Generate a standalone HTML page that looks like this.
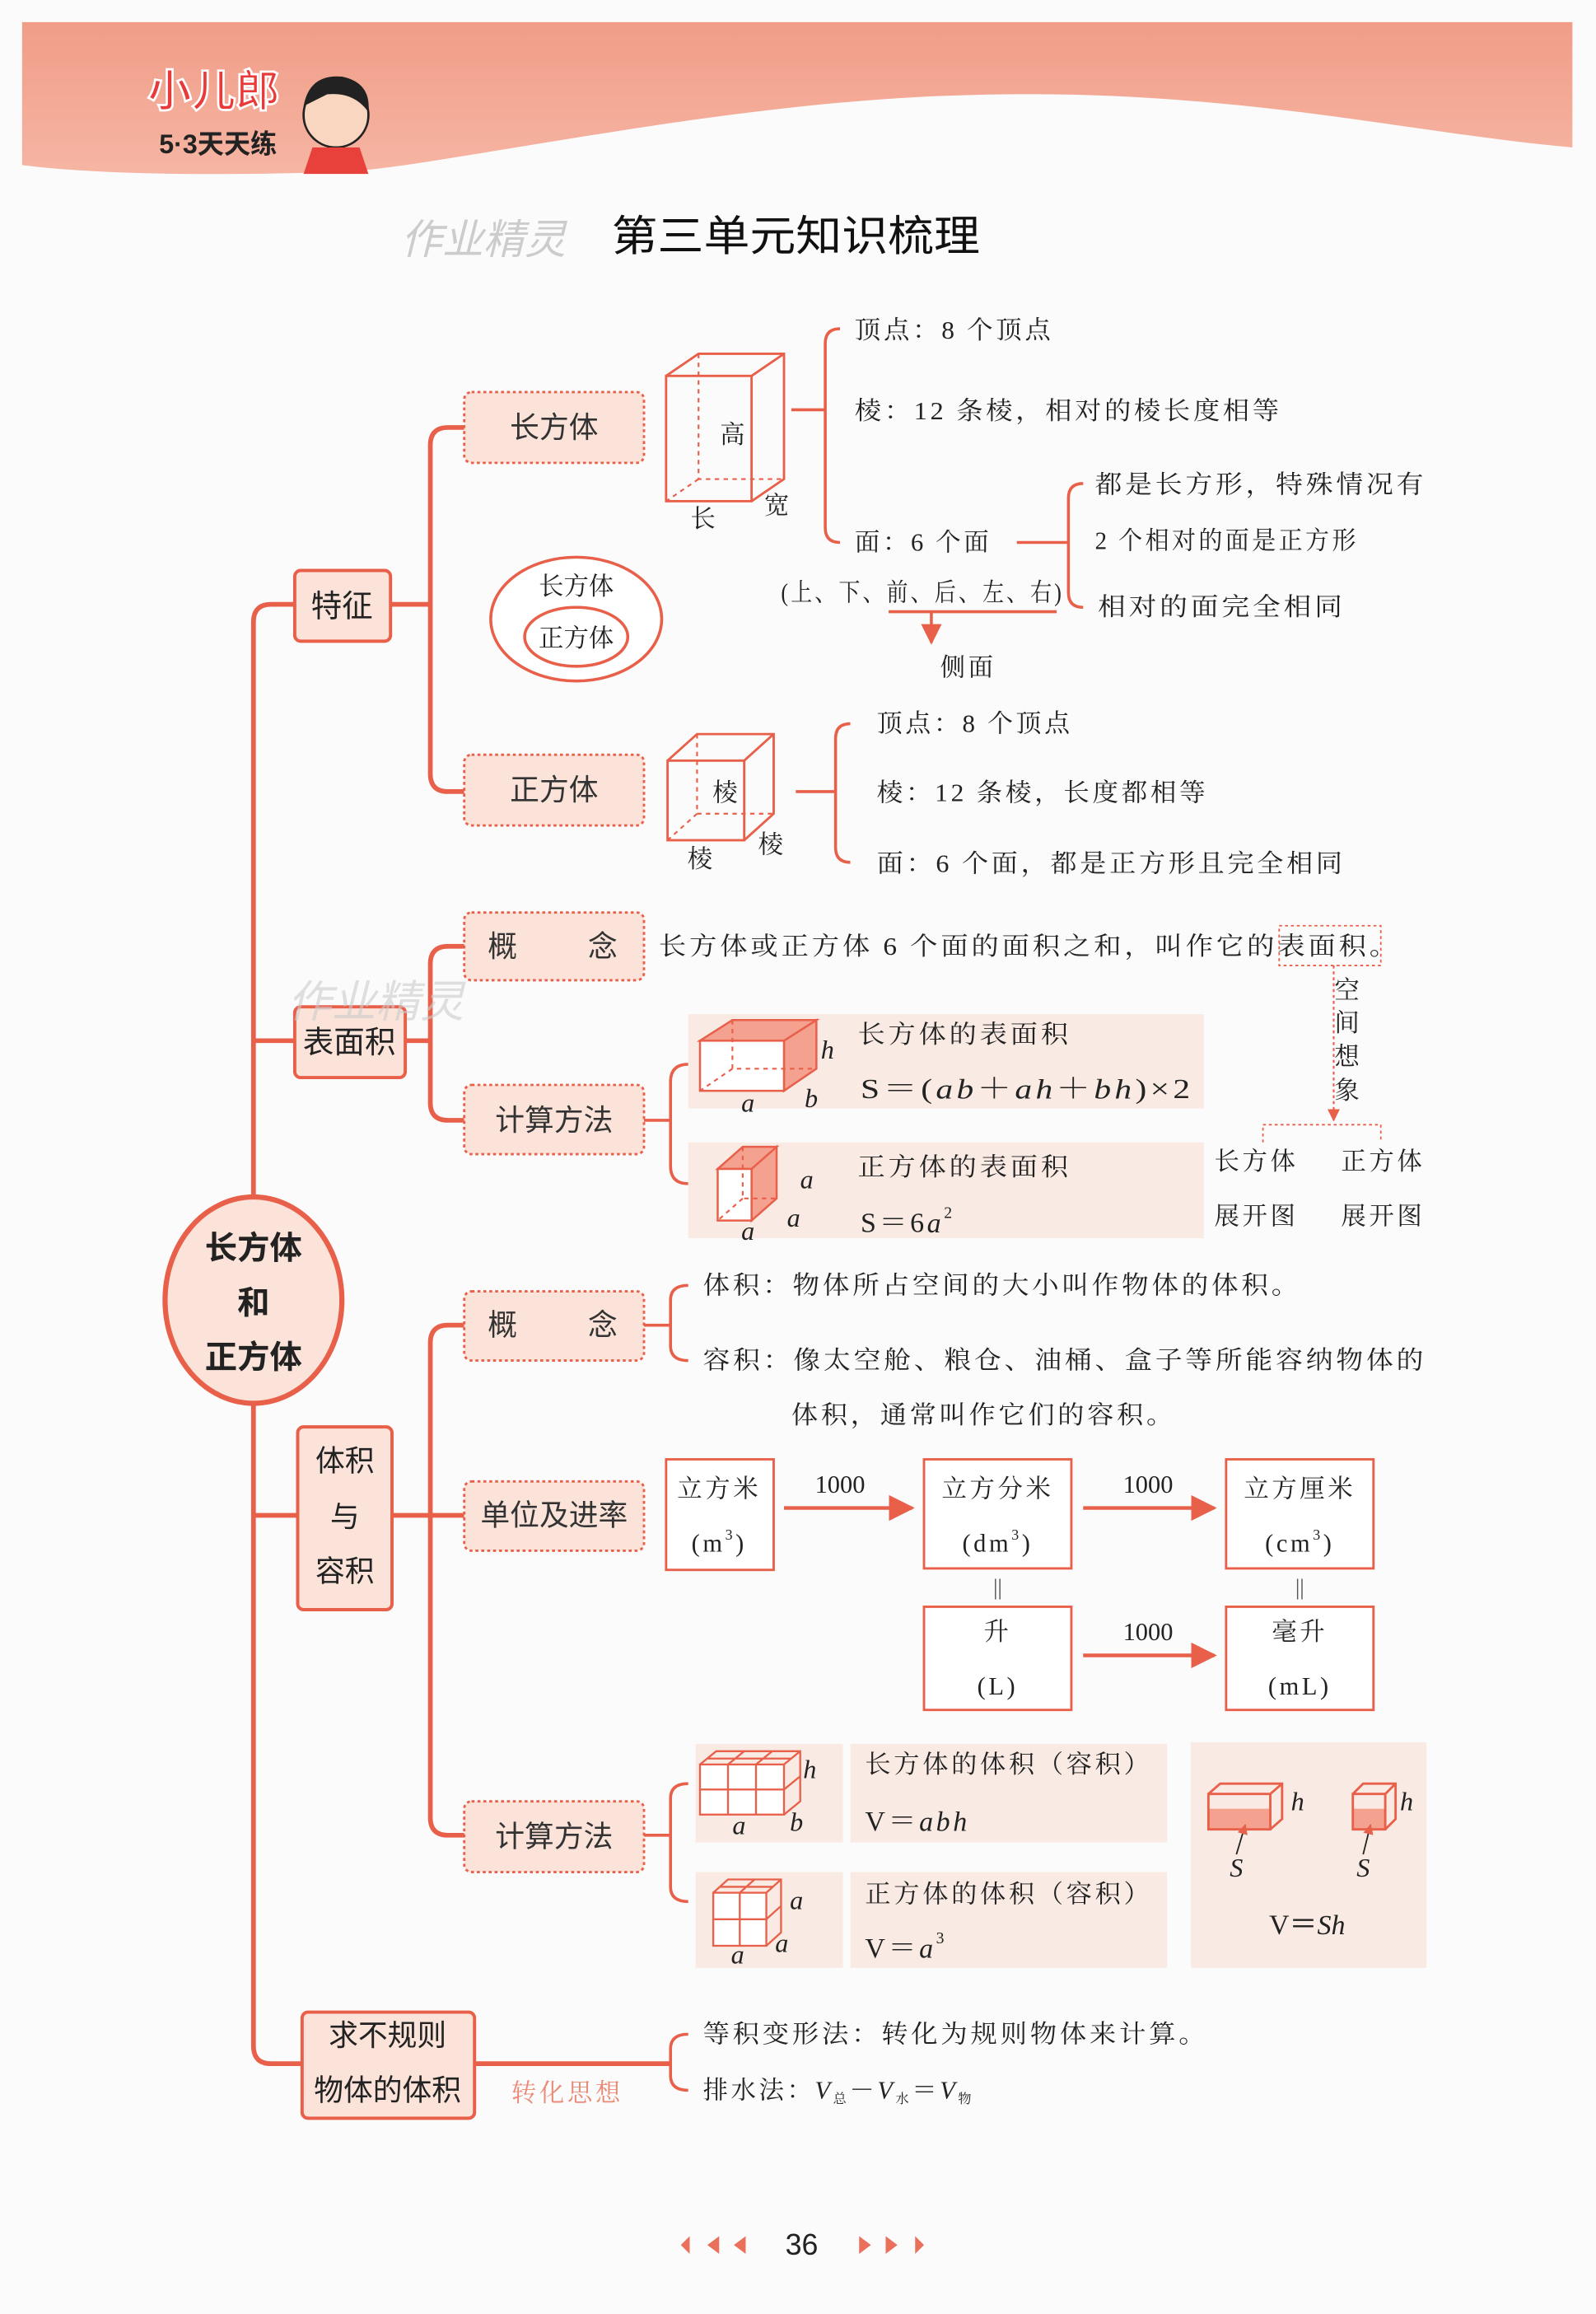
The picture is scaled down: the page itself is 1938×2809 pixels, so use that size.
<!DOCTYPE html>
<html><head><meta charset="utf-8"><style>
html,body{margin:0;padding:0;background:#fcfbfb;}
svg{display:block;}
.t{font-family:"Liberation Serif","Noto Serif CJK SC",serif;font-size:17px;fill:#222;letter-spacing:2px;dominant-baseline:central;}
.b{font-family:"Liberation Sans","Noto Sans CJK SC",sans-serif;font-size:20px;fill:#333;dominant-baseline:central;text-anchor:middle;}
.bb{font-family:"Liberation Sans","Noto Sans CJK SC",sans-serif;font-size:21px;font-weight:bold;fill:#222;dominant-baseline:central;text-anchor:middle;}
.i{font-family:"Liberation Serif",serif;font-style:italic;font-size:18px;fill:#222;dominant-baseline:central;}
.ln{stroke:#e8604a;stroke-width:3.2;fill:none;}
.br{stroke:#e8604a;stroke-width:2;fill:none;}
.bx{fill:#fbe3d9;stroke:#e8604a;stroke-width:1.6;stroke-dasharray:2 2;}
.sb{fill:#fbe3d9;stroke:#e8604a;stroke-width:2.2;}
.ub{fill:#fff;stroke:#e8604a;stroke-width:1.6;}
.pn{fill:#f9ebe4;}
.cb{fill:none;stroke:#e8604a;stroke-width:1.6;}
.cd{fill:none;stroke:#e8604a;stroke-width:1.2;stroke-dasharray:3 3;}
</style></head><body>
<svg width="1938" height="2809" viewBox="0 0 1083 1569.8" preserveAspectRatio="none" xmlns="http://www.w3.org/2000/svg">
<defs>
<linearGradient id="hg" x1="0" y1="0" x2="0" y2="1"><stop offset="0" stop-color="#f09d88"/><stop offset="1" stop-color="#f6b5a3"/></linearGradient>
<marker id="ar" viewBox="0 0 10 10" refX="9" refY="5" markerWidth="7" markerHeight="7" orient="auto"><path d="M0,0 L10,5 L0,10 z" fill="#e8604a"/></marker>
</defs>
<rect x="0" y="0" width="1083" height="1570" fill="#fcfbfb"/>
<!-- header -->
<path d="M15,15 H1067 V100 C950,90 820,55 620,66 C470,74 300,112 240,116 C150,120 60,118 15,112 Z" fill="url(#hg)"/>
<text x="145" y="72" text-anchor="middle" font-family="Liberation Sans,Noto Sans CJK SC,sans-serif" font-size="30" font-weight="bold" fill="#e83a3a" stroke="#fff" stroke-width="1.5">小儿郎</text>
<text x="148" y="104" text-anchor="middle" font-family="Liberation Sans,Noto Sans CJK SC,sans-serif" font-size="18" font-weight="bold" fill="#222">5·3天天练</text>
<circle cx="228" cy="78" r="22" fill="#f8d6bf" stroke="#222" stroke-width="1.5"/>
<path d="M206,72 Q210,50 232,52 Q252,56 250,76 Q240,62 222,64 Z" fill="#222"/>
<path d="M212,100 L244,100 L250,118 L206,118 Z" fill="#e8403a"/>
<text x="328" y="172" text-anchor="middle" font-family="Liberation Sans,Noto Sans CJK SC,sans-serif" font-size="28" fill="#ccc" font-style="italic">作业精灵</text>
<text x="415" y="160" textLength="250" lengthAdjust="spacingAndGlyphs" dominant-baseline="central" font-family="Liberation Sans,Noto Sans CJK SC,sans-serif" font-size="29" fill="#111">第三单元知识梳理</text>

<!-- trunk -->
<path class="ln" d="M200,410 H184 Q172,410 172,422 V1388 Q172,1400 184,1400 H206"/>
<path class="ln" d="M172,706 H200 M172,1028 H202"/>
<!-- 特征 group -->
<path class="ln" d="M265,410 H292 M315,290 H304 Q292,290 292,302 V525 Q292,537 304,537 H315"/>
<rect class="sb" x="200" y="387" width="65" height="48" rx="4"/><text class="bb" x="232" y="411" style="font-weight:normal">特征</text>
<rect class="bx" x="315" y="266" width="122" height="48" rx="5"/><text class="b" x="376" y="290">长方体</text>
<rect class="bx" x="315" y="512" width="122" height="48" rx="5"/><text class="b" x="376" y="536">正方体</text>
<!-- venn -->
<ellipse cx="391" cy="420" rx="58" ry="42" fill="#fff" stroke="#e8604a" stroke-width="2"/>
<ellipse cx="391" cy="432" rx="35" ry="20" fill="#fff" stroke="#e8604a" stroke-width="2"/>
<text class="t" x="391" y="398" text-anchor="middle" style="letter-spacing:0">长方体</text>
<text class="t" x="391" y="433" text-anchor="middle" style="letter-spacing:0">正方体</text>
<!-- cuboid -->
<rect class="cb" x="452" y="255" width="58" height="85"/>
<path class="cb" d="M452,255 L474,240 H532 V325 L510,340 M510,255 L532,240"/>
<path class="cd" d="M474,240 V325 H532 M474,325 L452,340"/>
<text class="t" x="497" y="295" text-anchor="middle" style="letter-spacing:0">高</text>
<text class="t" x="478" y="352" text-anchor="middle">长</text>
<text class="t" x="528" y="343" text-anchor="middle">宽</text>
<path class="br" d="M537,278 H560 M570,223 Q560,223 560,233 V358 Q560,368 570,368"/>
<text class="t" x="580" y="224" textLength="135" lengthAdjust="spacingAndGlyphs">顶点：8 个顶点</text>
<text class="t" x="580" y="279" textLength="290" lengthAdjust="spacingAndGlyphs">棱：12 条棱，相对的棱长度相等</text>
<text class="t" x="580" y="368" textLength="93" lengthAdjust="spacingAndGlyphs">面：6 个面</text>
<text class="t" x="530" y="402" textLength="192" lengthAdjust="spacingAndGlyphs">(上、下、前、后、左、右)</text>
<path class="br" d="M603,415 H717"/>
<path class="br" d="M632,415 V436" marker-end="url(#ar)"/>
<text class="t" x="657" y="453" text-anchor="middle">侧面</text>
<path class="br" d="M690,368 H725 M735,328 Q725,328 725,338 V402 Q725,412 735,412"/>
<text class="t" x="743" y="329" textLength="225" lengthAdjust="spacingAndGlyphs">都是长方形，特殊情况有</text>
<text class="t" x="743" y="367" textLength="179" lengthAdjust="spacingAndGlyphs">2 个相对的面是正方形</text>
<text class="t" x="745" y="412" textLength="168" lengthAdjust="spacingAndGlyphs">相对的面完全相同</text>
<!-- cube -->
<rect class="cb" x="453" y="516" width="52" height="54"/>
<path class="cb" d="M453,516 L473,498 H525 V552 L505,570 M505,516 L525,498"/>
<path class="cd" d="M473,498 V552 H525 M473,552 L453,570"/>
<text class="t" x="493" y="538" text-anchor="middle">棱</text>
<text class="t" x="476" y="583" text-anchor="middle">棱</text>
<text class="t" x="524" y="573" text-anchor="middle">棱</text>
<path class="br" d="M540,537 H567 M577,491 Q567,491 567,501 V575 Q567,585 577,585"/>
<text class="t" x="595" y="491" textLength="133" lengthAdjust="spacingAndGlyphs">顶点：8 个顶点</text>
<text class="t" x="595" y="538" textLength="225" lengthAdjust="spacingAndGlyphs">棱：12 条棱，长度都相等</text>
<text class="t" x="595" y="586" textLength="318" lengthAdjust="spacingAndGlyphs">面：6 个面，都是正方形且完全相同</text>

<!-- 表面积 group -->
<path class="ln" d="M275,706 H292 M315,642 H304 Q292,642 292,654 V748 Q292,760 304,760 H315"/>
<rect class="sb" x="200" y="683" width="75" height="48" rx="4"/><text class="bb" x="237" y="707" style="font-weight:normal">表面积</text>
<text x="255" y="690" text-anchor="middle" font-family="Liberation Sans,Noto Sans CJK SC,sans-serif" font-size="30" fill="#ccc" opacity="0.6" font-style="italic">作业精灵</text>
<rect class="bx" x="315" y="619" width="122" height="46" rx="5"/><text class="b" x="341" y="642">概</text><text class="b" x="409" y="642">念</text>
<rect class="bx" x="315" y="736" width="122" height="47" rx="5"/><text class="b" x="376" y="760">计算方法</text>
<text class="t" x="447" y="642" textLength="503" lengthAdjust="spacingAndGlyphs">长方体或正方体 6 个面的面积之和，叫作它的表面积。</text>
<rect x="868" y="628" width="69" height="27" fill="none" stroke="#e8604a" stroke-width="1" stroke-dasharray="2 2"/>
<path d="M905,655 V760" stroke="#e8604a" stroke-width="1.2" stroke-dasharray="2 2" fill="none" marker-end="url(#ar)"/>
<text class="t" x="915" y="672" text-anchor="middle">空</text>
<text class="t" x="915" y="694" text-anchor="middle">间</text>
<text class="t" x="915" y="717" text-anchor="middle">想</text>
<text class="t" x="915" y="740" text-anchor="middle">象</text>
<path d="M857,775 V763 H937 V775" stroke="#e8604a" stroke-width="1" stroke-dasharray="2 2" fill="none"/>
<text class="t" x="824" y="788">长方体</text><text class="t" x="910" y="788">正方体</text>
<text class="t" x="824" y="825">展开图</text><text class="t" x="910" y="825">展开图</text>
<path class="br" d="M437,760 H455 M467,722 Q455,722 455,734 V791 Q455,803 467,803"/>
<rect class="pn" x="467" y="688" width="350" height="64"/>
<rect class="pn" x="467" y="775" width="350" height="65"/>
<!-- SA cuboid -->
<path d="M532,706 L554,692 V725 L532,740 Z M475,706 L497,692 H554 L532,706 Z" fill="#f4a190" stroke="#e8604a" stroke-width="1.4"/>
<rect x="475" y="706" width="57" height="34" fill="#fff" stroke="#e8604a" stroke-width="1.4"/>
<path class="cd" d="M497,692 V725 H554 M497,725 L475,740"/>
<text class="i" x="557" y="712">h</text><text class="i" x="503" y="748">a</text><text class="i" x="546" y="745">b</text>
<text class="t" x="582" y="702" textLength="145" lengthAdjust="spacingAndGlyphs">长方体的表面积</text>
<text class="t" x="584" y="739" style="font-size:19px" textLength="226" lengthAdjust="spacingAndGlyphs">S＝(<tspan font-style="italic">ab</tspan>＋<tspan font-style="italic">ah</tspan>＋<tspan font-style="italic">bh</tspan>)×2</text>
<!-- SA cube -->
<path d="M510,793 L527,778 V813 L510,828 Z M487,793 L504,778 H527 L510,793 Z" fill="#f4a190" stroke="#e8604a" stroke-width="1.4"/>
<rect x="487" y="793" width="23" height="35" fill="#fff" stroke="#e8604a" stroke-width="1.4"/>
<path class="cd" d="M504,778 V813 H527 M504,813 L487,828"/>
<text class="i" x="543" y="800">a</text><text class="i" x="534" y="826">a</text><text class="i" x="503" y="835">a</text>
<text class="t" x="582" y="792" textLength="145" lengthAdjust="spacingAndGlyphs">正方体的表面积</text>
<text class="t" x="584" y="830" style="font-size:19px">S＝6<tspan font-style="italic">a</tspan><tspan font-size="11" dy="-7">2</tspan></text>

<!-- main ellipse -->
<ellipse cx="172" cy="882" rx="60" ry="70" fill="#fbe3d9" stroke="#e8604a" stroke-width="3.5"/>
<text class="bb" x="172" y="847" style="font-size:22px">长方体</text>
<text class="bb" x="172" y="884" style="font-size:22px">和</text>
<text class="bb" x="172" y="921" style="font-size:22px">正方体</text>

<!-- 体积与容积 group -->
<path class="ln" d="M266,1028 H315 M315,899 H304 Q292,899 292,911 V1233 Q292,1245 304,1245 H315"/>
<rect class="sb" x="202" y="968" width="64" height="124" rx="4"/>
<text class="b" x="234" y="991" style="fill:#222">体积</text><text class="b" x="234" y="1029" style="fill:#222">与</text><text class="b" x="234" y="1066" style="fill:#222">容积</text>
<rect class="bx" x="315" y="876" width="122" height="47" rx="5"/><text class="b" x="341" y="899">概</text><text class="b" x="409" y="899">念</text>
<rect class="bx" x="315" y="1005" width="122" height="47" rx="5"/><text class="b" x="376" y="1028">单位及进率</text>
<rect class="bx" x="315" y="1222" width="122" height="48" rx="5"/><text class="b" x="376" y="1246">计算方法</text>
<path class="br" d="M437,899 H455 M467,872 Q455,872 455,882 V913 Q455,923 467,923"/>
<text class="t" x="477" y="872" textLength="406" lengthAdjust="spacingAndGlyphs">体积：物体所占空间的大小叫作物体的体积。</text>
<text class="t" x="477" y="923" textLength="491" lengthAdjust="spacingAndGlyphs">容积：像太空舱、粮仓、油桶、盒子等所能容纳物体的</text>
<text class="t" x="537" y="960" textLength="261" lengthAdjust="spacingAndGlyphs">体积，通常叫作它们的容积。</text>
<!-- units -->
<rect class="ub" x="452" y="990" width="73" height="75"/>
<rect class="ub" x="627" y="990" width="100" height="74"/>
<rect class="ub" x="832" y="990" width="100" height="74"/>
<rect class="ub" x="627" y="1090" width="100" height="70"/>
<rect class="ub" x="832" y="1090" width="100" height="70"/>
<text class="t" x="488" y="1010" text-anchor="middle">立方米</text><text class="t" x="488" y="1047" text-anchor="middle">(m<tspan font-size="10" dy="-6">3</tspan><tspan dy="6">)</tspan></text>
<text class="t" x="677" y="1010" text-anchor="middle">立方分米</text><text class="t" x="677" y="1047" text-anchor="middle">(dm<tspan font-size="10" dy="-6">3</tspan><tspan dy="6">)</tspan></text>
<text class="t" x="882" y="1010" text-anchor="middle">立方厘米</text><text class="t" x="882" y="1047" text-anchor="middle">(cm<tspan font-size="10" dy="-6">3</tspan><tspan dy="6">)</tspan></text>
<text class="t" x="677" y="1107" text-anchor="middle">升</text><text class="t" x="677" y="1144" text-anchor="middle">(L)</text>
<text class="t" x="882" y="1107" text-anchor="middle">毫升</text><text class="t" x="882" y="1144" text-anchor="middle">(mL)</text>
<path class="br" d="M532,1023 H619" marker-end="url(#ar)" style="stroke-width:2.5"/>
<path class="br" d="M735,1023 H824" marker-end="url(#ar)" style="stroke-width:2.5"/>
<path class="br" d="M735,1123 H824" marker-end="url(#ar)" style="stroke-width:2.5"/>
<text class="t" x="570" y="1007" text-anchor="middle" style="letter-spacing:0">1000</text>
<text class="t" x="779" y="1007" text-anchor="middle" style="letter-spacing:0">1000</text>
<text class="t" x="779" y="1107" text-anchor="middle" style="letter-spacing:0">1000</text>
<path d="M675.5,1071 V1085 M678.5,1071 V1085 M880.5,1071 V1085 M883.5,1071 V1085" stroke="#555" stroke-width="0.8"/>
<!-- volume calc -->
<path class="br" d="M437,1245 H455 M467,1210 Q455,1210 455,1220 V1280 Q455,1290 467,1290"/>
<rect class="pn" x="472" y="1183" width="100" height="67"/><rect class="pn" x="577" y="1183" width="215" height="67"/>
<rect class="pn" x="472" y="1270" width="100" height="65"/><rect class="pn" x="577" y="1270" width="215" height="65"/>
<rect class="pn" x="808" y="1182" width="160" height="153"/>
<!-- grid cuboid -->
<g class="cb" style="stroke-width:1.3">
<rect x="475" y="1197" width="57" height="34" fill="#fff"/>
<path d="M475,1197 L486,1188 H543 V1222 L532,1231 M532,1197 L543,1188 M494,1197 V1231 M513,1197 V1231 M475,1214 H532 M494,1197 L505,1188 M513,1197 L524,1188 M532,1214 L543,1205 M480,1193 H537"/>
</g>
<text class="i" x="545" y="1200">h</text><text class="i" x="497" y="1238">a</text><text class="i" x="536" y="1236">b</text>
<text class="t" x="587" y="1197" textLength="195" lengthAdjust="spacingAndGlyphs">长方体的体积（容积）</text>
<text class="t" x="587" y="1236" style="font-size:19px">V＝<tspan font-style="italic">abh</tspan></text>
<g class="cb" style="stroke-width:1.3">
<rect x="484" y="1284" width="36" height="36" fill="#fff"/>
<path d="M484,1284 L494,1275 H530 V1311 L520,1320 M520,1284 L530,1275 M502,1284 V1320 M484,1302 H520 M502,1284 L512,1275 M520,1302 L530,1293 M489,1280 H525"/>
</g>
<text class="i" x="536" y="1289">a</text><text class="i" x="526" y="1318">a</text><text class="i" x="496" y="1326">a</text>
<text class="t" x="587" y="1285" textLength="195" lengthAdjust="spacingAndGlyphs">正方体的体积（容积）</text>
<text class="t" x="587" y="1322" style="font-size:19px">V＝<tspan font-style="italic">a</tspan><tspan font-size="11" dy="-7">3</tspan></text>
<!-- V=Sh -->
<path d="M820,1227 H862 V1241 H820 Z" fill="#f4a190"/>
<path class="cb" d="M820,1217 H862 V1241 H820 Z M820,1217 L828,1210 H870 V1234 L862,1241 M862,1217 L870,1210"/>
<path d="M918,1227 H940 V1241 H918 Z" fill="#f4a190"/>
<path class="cb" d="M918,1217 H940 V1241 H918 Z M918,1217 L925,1210 H947 V1234 L940,1241 M940,1217 L947,1210"/>
<text class="i" x="876" y="1222">h</text><text class="i" x="950" y="1222">h</text>
<path d="M839,1258 L845,1238" stroke="#222" stroke-width="1" marker-end="url(#ar)"/>
<path d="M925,1258 L930,1238" stroke="#222" stroke-width="1" marker-end="url(#ar)"/>
<text class="i" x="839" y="1267" text-anchor="middle">S</text><text class="i" x="925" y="1267" text-anchor="middle">S</text>
<text class="i" x="887" y="1306" text-anchor="middle" style="font-style:normal;font-size:19px">V＝<tspan font-style="italic">Sh</tspan></text>

<!-- 求不规则 -->
<path class="ln" d="M322,1400 H455"/>
<rect class="sb" x="205" y="1365" width="117" height="72" rx="4"/>
<text class="b" x="263" y="1381" style="fill:#222">求不规则</text>
<text class="b" x="263" y="1418" style="fill:#222">物体的体积</text>
<path class="br" d="M467,1380 Q455,1380 455,1390 V1408 Q455,1418 467,1418"/>
<text class="t" x="477" y="1380" textLength="343" lengthAdjust="spacingAndGlyphs">等积变形法：转化为规则物体来计算。</text>
<text class="t" x="477" y="1418">排水法：<tspan font-style="italic">V</tspan><tspan font-size="9" dy="6">总</tspan><tspan dy="-6">－</tspan><tspan font-style="italic">V</tspan><tspan font-size="9" dy="6">水</tspan><tspan dy="-6">＝</tspan><tspan font-style="italic">V</tspan><tspan font-size="9" dy="6">物</tspan></text>
<text class="t" x="347" y="1420" style="fill:#e98a76">转化思想</text>

<!-- page number -->
<text x="544" y="1523" text-anchor="middle" dominant-baseline="central" font-family="Liberation Sans,sans-serif" font-size="20" fill="#222">36</text>
<path d="M468,1517 L462,1523 L468,1529 Z M488,1517 L480,1523 L488,1529 Z M506,1517 L498,1523 L506,1529 Z" fill="#e8604a" opacity="0.9"/>
<path d="M583,1517 L591,1523 L583,1529 Z M601,1517 L609,1523 L601,1529 Z M621,1517 L627,1523 L621,1529 Z" fill="#e8604a" opacity="0.9"/>
</svg>
</body></html>
